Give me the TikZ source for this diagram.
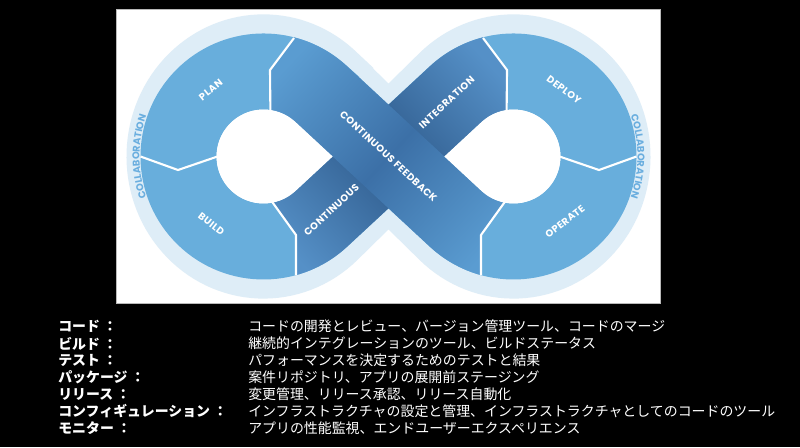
\documentclass[tikz,border=0pt]{standalone}
\usepackage{fontspec}
\usetikzlibrary{calc,decorations.text}
\newfontfamily\jpfont{Noto Sans CJK JP}
\newfontfamily\lblfont{Poppins}[LetterSpace=5.0]

\definecolor{loopblue}{HTML}{68AEDC}
\definecolor{halolight}{HTML}{DEEDF7}
\definecolor{bandend}{HTML}{5A9CD1}
\definecolor{bandmid}{HTML}{3C70A7}
\definecolor{underend}{HTML}{5590C7}
\definecolor{undermid}{HTML}{2F5B8C}
\definecolor{collabblue}{HTML}{6AAEDF}

\tikzset{
  divider/.style={white, line width=1.5pt},
  lbl/.style={text=white, inner sep=0pt, font=\lblfont\bfseries\fontsize{7}{8}\selectfont},
  rowkey/.style={anchor=west, text=white, inner sep=0pt, font=\jpfont\bfseries\fontsize{9.9}{12}\selectfont},
  rowtext/.style={anchor=west, text=white, inner sep=0pt, font=\jpfont\fontsize{9.9}{12}\selectfont},
}

\begin{document}
\begin{tikzpicture}[x=0.025cm, y=0.025cm]
\useasboundingbox (0,0) rectangle (800,-447);
\fill[black] (0,0) rectangle (800,-447);
\filldraw[fill=white, draw=gray!55, line width=0.4pt] (116,-9) rectangle (660,-303);

\begin{scope}[shift={(388.5,-156.5)}]
\coordinate (L) at (-125,0);
\coordinate (R) at (125,0);

% halo and loop
\draw[halolight, line width=2.6cm, yscale=1.06] (-67.2,62.3) -- (67.2,-62.3)
  arc[start angle=227.16, end angle=492.84, radius=85] -- (-67.2,-62.3)
  arc[start angle=-47.16, end angle=-312.84, radius=85] -- cycle;
\draw[loopblue, line width=1.9cm] (-67.2,62.3) -- (67.2,-62.3)
  arc[start angle=227.16, end angle=492.84, radius=85] -- (-67.2,-62.3)
  arc[start angle=-47.16, end angle=-312.84, radius=85] -- cycle;

% band underneath
\begin{scope}
\clip (118.1,0) -- (118.1,44.5) -- (118.5,86.5) -- (94.5,118.5) -- (70.5,150.5)
  -- (-200,150.5) -- (-200,-10.1) -- (-141.7,-10.1) -- (-117.1,-44.3)
  -- (-92.5,-78.5) -- (-92.5,-160) -- (118.1,-160) -- cycle;
\shade[top color=underend, bottom color=underend, middle color=undermid, shading angle=-47.16]
  ($(R)+(80:123)$) arc[start angle=80, end angle=132.84, radius=123]
  -- ($(L)+(-47.16:47)$) arc[start angle=-47.16, end angle=-100, radius=47]
  -- ($(L)+(-100:123)$) arc[start angle=-100, end angle=-47.16, radius=123]
  -- ($(R)+(132.84:47)$) arc[start angle=132.84, end angle=80, radius=47] -- cycle;
\end{scope}

% band on top
\begin{scope}
\clip (-118.1,0) -- (-118.1,44.5) -- (-118.5,86.5) -- (-94.5,118.5) -- (-70.5,150.5)
  -- (200,150.5) -- (200,-10.1) -- (141.7,-10.1) -- (117.1,-44.3)
  -- (92.5,-78.5) -- (92.5,-160) -- (-118.1,-160) -- cycle;
\shade[top color=bandend, bottom color=bandend, middle color=bandmid, shading angle=47.16]
  ($(L)+(100:123)$) arc[start angle=100, end angle=47.16, radius=123]
  -- ($(R)+(227.16:47)$) arc[start angle=227.16, end angle=280, radius=47]
  -- ($(R)+(280:123)$) arc[start angle=280, end angle=227.16, radius=123]
  -- ($(L)+(47.16:47)$) arc[start angle=47.16, end angle=100, radius=47] -- cycle;
\end{scope}

% holes
\fill[white] (-55.9,0) -- ($(L)+(47.16:47)$) arc[start angle=47.16, end angle=312.84, radius=47] -- cycle;
\fill[white] (55.9,0) -- ($(R)+(132.84:47)$) arc[start angle=132.84, end angle=-132.84, radius=47] -- cycle;

% dividers
\draw[divider] (-94.5,118.5) -- (-118.5,86.5) -- (-118.1,44.5);
\draw[divider] (94.5,118.5) -- (118.5,86.5) -- (118.1,44.5);
\draw[divider] (-92.5,-118.6) -- (-92.5,-78.5) -- (-117.1,-44.3);
\draw[divider] (92.5,-118.6) -- (92.5,-78.5) -- (117.1,-44.3);
\draw[divider] (-248,0) -- (-210.5,-13.5) -- (-171,0);
\draw[divider] (248,0) -- (210.5,-13.5) -- (171,0);

% stage labels
\node[lbl, rotate=38.4] (plan) at (-177.7,66.5) {PLAN};
\node[lbl, rotate=-38] (build) at (-177.2,-67.7) {BUILD};
\node[lbl, rotate=42.84] (cont) at (-57,-53.5) {CONTINUOUS};
\node[lbl, rotate=-42.84] (feedback) at (0,0) {CONTINUOUS FEEDBACK};
\node[lbl, rotate=42.84] (integ) at (58.2,54) {INTEGRATION};
\node[lbl, rotate=-37.2] (deploy) at (175.5,66.5) {DEPLOY};
\node[lbl, rotate=38.3] (operate) at (176.5,-65.2) {OPERATE};

% collaboration ring
\path[decorate, decoration={text along path, text align=center, text color=collabblue,
  text={|\lblfont\bfseries\fontsize{7}{8}\selectfont|COLLABORATION}}]
  ($(L)+(212:124)$) arc[start angle=212, end angle=148, radius=124];
\path[decorate, decoration={text along path, text align=center, text color=collabblue,
  text={|\lblfont\bfseries\fontsize{7}{8}\selectfont|COLLABORATION}}]
  ($(R)+(32:124)$) arc[start angle=32, end angle=-32, radius=124];
\end{scope}

% list below
\node[rowkey] (k1) at (58,-326.5) {コード ：};
\node[rowkey] (k2) at (58,-343.5) {ビルド ：};
\node[rowkey] (k3) at (58,-360.5) {テスト ：};
\node[rowkey] (k4) at (58,-377.5) {パッケージ ：};
\node[rowkey] (k5) at (58,-394.5) {リリース ：};
\node[rowkey] (k6) at (58,-411.5) {コンフィギュレーション ：};
\node[rowkey] (k7) at (58,-428.5) {モニター ：};

\node[rowtext] (t1) at (248,-326.5) {コードの開発とレビュー、バージョン管理ツール、コードのマージ};
\node[rowtext] (t2) at (248,-343.5) {継続的インテグレーションのツール、ビルドステータス};
\node[rowtext] (t3) at (248,-360.5) {パフォーマンスを決定するためのテストと結果};
\node[rowtext] (t4) at (248,-377.5) {案件リポジトリ、アプリの展開前ステージング};
\node[rowtext] (t5) at (248,-394.5) {変更管理、リリース承認、リリース自動化};
\node[rowtext] (t6) at (248,-411.5) {インフラストラクチャの設定と管理、インフラストラクチャとしてのコードのツール};
\node[rowtext] (t7) at (248,-428.5) {アプリの性能監視、エンドユーザーエクスペリエンス};
\end{tikzpicture}
\end{document}
